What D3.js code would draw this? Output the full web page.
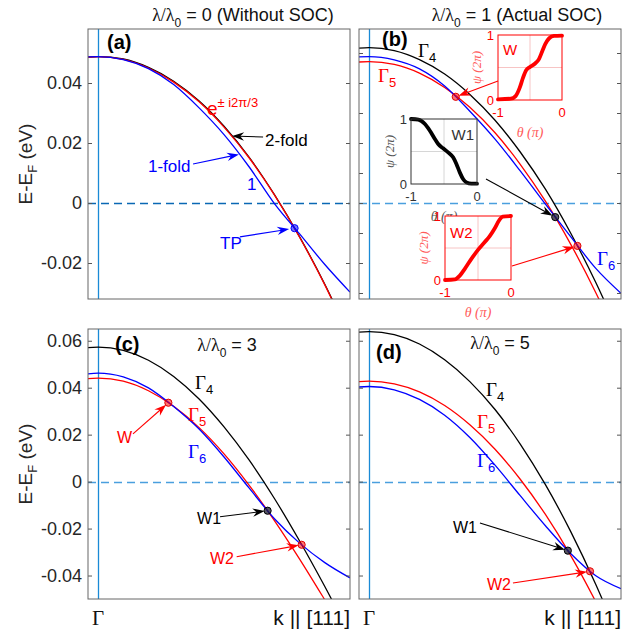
<!DOCTYPE html>
<html>
<head>
<meta charset="utf-8">
<script src="https://cdn.jsdelivr.net/npm/d3@7"></script>
<style>
  body { margin: 0; background: #fff; }
  svg text { font-family: "Liberation Sans", Arial, sans-serif; }
  .serif { font-family: "Liberation Serif", "Times New Roman", serif; }
</style>
</head>
<body>
<svg id="fig" width="626" height="631"></svg>
<script>
// k along [111], Gamma at 0
const kGrid = [-0.04, 0, 0.1, 0.2, 0.3, 0.4, 0.5, 0.6, 0.7, 0.8, 0.9, 1.0];

// (a) lambda/lambda0 = 0
const aBlack = [0.0486, 0.0488, 0.0480, 0.0452, 0.0406, 0.0341, 0.0256, 0.0152, 0.0028, -0.0113, -0.0271, -0.0449];
const aRed   = [0.0486, 0.0488, 0.0479, 0.0450, 0.0403, 0.0338, 0.0253, 0.0150, 0.0027, -0.0114, -0.0273, -0.0452];
const aBlue  = [0.0487, 0.0488, 0.0478, 0.0448, 0.0395, 0.0318, 0.0228, 0.0120, -0.0002, -0.0103, -0.0205, -0.0297];
// (b) lambda/lambda0 = 1
const bBlack = [0.0516, 0.0518, 0.0508, 0.0478, 0.0430, 0.0362, 0.0276, 0.0170, 0.0046, -0.0100, -0.0265, -0.0450];
const bRed   = [0.0470, 0.0471, 0.0462, 0.0433, 0.0385, 0.0319, 0.0234, 0.0129, 0.0006, -0.0137, -0.0299, -0.0480];
const bBlue  = [0.0487, 0.0488, 0.0477, 0.0447, 0.0390, 0.0306, 0.0213, 0.0107, -0.0004, -0.0112, -0.0218, -0.0301];
// (c) lambda/lambda0 = 3
const cBlack = [0.0571, 0.0573, 0.0559, 0.0517, 0.0448, 0.0353, 0.0233, 0.0091, -0.0072, -0.0253, -0.0447, -0.0653];
const cRed   = [0.0439, 0.0441, 0.0428, 0.0387, 0.0321, 0.0231, 0.0118, -0.0016, -0.0166, -0.0330, -0.0504, -0.0682];
const cBlue  = [0.0459, 0.0462, 0.0446, 0.0399, 0.0320, 0.0225, 0.0105, -0.0028, -0.0158, -0.0262, -0.0345, -0.0410];
// (d) lambda/lambda0 = 5
const dBlack = [0.0637, 0.0639, 0.0626, 0.0586, 0.0519, 0.0426, 0.0307, 0.0160, -0.0013, -0.0212, -0.0438, -0.0691];
const dRed   = [0.0426, 0.0428, 0.0416, 0.0382, 0.0324, 0.0242, 0.0138, 0.0010, -0.0140, -0.0314, -0.0512, -0.0732];
const dBlue  = [0.0403, 0.0405, 0.0391, 0.0350, 0.0283, 0.0188, 0.0070, -0.0060, -0.0188, -0.0306, -0.0401, -0.0456];

// crossing points [k, E]
const aTP = [0.78, -0.0084];
const bW = [0.344, 0.0354], bW1 = [0.739, -0.0047], bW2 = [0.827, -0.0143];
const cW = [0.279, 0.0336], cW1 = [0.673, -0.0124], cW2 = [0.808, -0.0269];
const dW1 = [0.789, -0.0294], dW2 = [0.877, -0.0382];

// Wilson loops, theta (pi) vs psi (2pi)
const wTheta  = [-1, -0.8, -0.725, -0.66, -0.61, -0.56, -0.5, -0.425, -0.36, -0.31, -0.26, -0.2, -0.125, 0];
const wPsi    = [0.01, 0.02, 0.06, 0.19, 0.34, 0.457, 0.508, 0.558, 0.63, 0.746, 0.863, 0.95, 0.985, 0.99];
const w1Theta = [-1, -0.889, -0.789, -0.714, -0.638, -0.588, -0.513, -0.437, -0.362, -0.312, -0.261, -0.211, -0.161, -0.085, 0];
const w1Psi   = [1.0, 0.99, 0.923, 0.82, 0.692, 0.615, 0.549, 0.487, 0.41, 0.308, 0.179, 0.077, 0.026, 0.005, 0.005];
const w2Theta = [-1, -0.85, -0.775, -0.7, -0.6, -0.5, -0.4, -0.325, -0.25, -0.175, -0.125, 0];
const w2Psi   = [0, 0.01, 0.068, 0.174, 0.33, 0.47, 0.59, 0.68, 0.8, 0.94, 0.99, 1];

// axes
const kDomain = [-0.04, 1.0];
const abDomain = [-0.032, 0.058];
const cdDomain = [-0.05, 0.065];
const abTicks = [0.04, 0.02, 0, -0.02];
const bTicks = [0.05, 0.04, 0.03, 0.02, 0.01, 0, -0.01, -0.02, -0.03];
const cdTicks = [0.06, 0.04, 0.02, 0, -0.02, -0.04];

const PW = 262, PH = 270;
const RED = "#ff0000", BLUE = "#0000ff", BLACK = "#000000";
const svg = d3.select("#fig");

function richText(parent, x, y, parts, attrs) {
    var t = parent.append("text").attr("x", x).attr("y", y);
    Object.entries(attrs || {}).forEach(([k, v]) => t.attr(k, v));
    var shift = 0;
    parts.forEach(p => {
        var s = t.append("tspan").text(p.t);
        var target = p.dy || 0;
        s.attr("dy", target - shift);
        shift = target;
        if (p.size) s.attr("font-size", p.size);
        if (p.serif) s.attr("class", "serif");
        if (p.italic) s.attr("font-style", "italic");
    });
    return t;
}

function gamma(parent, x, y, n, color) {
    return richText(parent, x, y, [
        { t: "Γ", serif: true, size: 19 },
        { t: n, size: 13, dy: 5 }
    ], { fill: color });
}

function arrow(g, x1, y1, x2, y2, color, back) {
    var dx = x2 - x1, dy = y2 - y1, len = Math.hypot(dx, dy);
    var ux = dx / len, uy = dy / len, nx = -uy, ny = ux;
    var tx = x2 - ux * back, ty = y2 - uy * back;
    var L = 12, hw = 4.2;
    var bx = tx - ux * L, by = ty - uy * L;
    g.append("line")
        .attr("x1", x1).attr("y1", y1)
        .attr("x2", tx - ux * L * 0.6).attr("y2", ty - uy * L * 0.6)
        .attr("stroke", color).attr("stroke-width", 1.1);
    g.append("path")
        .attr("d", `M${tx},${ty}L${bx + nx * hw},${by + ny * hw}L${tx - ux * L * 0.68},${ty - uy * L * 0.68}L${bx - nx * hw},${by - ny * hw}Z`)
        .attr("fill", color);
}

function dot(g, p, pt, kind) {
    var styles = {
        red: ["rgba(255,0,0,0.55)", "#e00000"],
        black: ["rgba(30,30,50,0.75)", "#000"],
        blue: ["rgba(0,0,255,0.55)", "#0000ff"]
    };
    g.append("circle")
        .attr("cx", p.x(pt[0])).attr("cy", p.y(pt[1])).attr("r", 3.6)
        .attr("fill", styles[kind][0]).attr("stroke", styles[kind][1]).attr("stroke-width", 1);
}

const panels = [
    { id: "a", left: 88, top: 29, yDomain: abDomain, ticks: abTicks, tickLabels: true, zero: "#0a68b4",
      bands: [[aBlack, BLACK], [aRed, RED], [aBlue, BLUE]], tag: "(a)", tagPos: [19, 20] },
    { id: "b", left: 359, top: 29, yDomain: abDomain, ticks: bTicks, tickLabels: false, zero: "#4a9fde",
      bands: [[bBlack, BLACK], [bRed, RED], [bBlue, BLUE]], tag: "(b)", tagPos: [23, 17] },
    { id: "c", left: 88, top: 329, yDomain: cdDomain, ticks: cdTicks, tickLabels: true, zero: "#4a9fde",
      bands: [[cBlack, BLACK], [cRed, RED], [cBlue, BLUE]], tag: "(c)", tagPos: [27, 22] },
    { id: "d", left: 359, top: 329, yDomain: cdDomain, ticks: cdTicks, tickLabels: false, zero: "#4a9fde",
      bands: [[dBlack, BLACK], [dRed, RED], [dBlue, BLUE]], tag: "(d)", tagPos: [17, 30] }
];

panels.forEach(p => {
    p.x = d3.scaleLinear().domain(kDomain).range([p.left, p.left + PW]);
    p.y = d3.scaleLinear().domain(p.yDomain).range([p.top + PH, p.top]);
    p.g = svg.append("g");

    svg.append("clipPath").attr("id", "clip-" + p.id)
        .append("rect").attr("x", p.left).attr("y", p.top).attr("width", PW).attr("height", PH);

    var plot = p.g.append("g").attr("clip-path", `url(#clip-${p.id})`);

    // Gamma line and Fermi level (snapped to the pixel grid so the dashes stay crisp)
    var gx = Math.round(p.x(0)) + 0.5;
    var zy = Math.round(p.y(0)) + 0.5;
    plot.append("line")
        .attr("x1", gx).attr("x2", gx).attr("y1", p.top).attr("y2", p.top + PH)
        .attr("stroke", "#1a8ad6").attr("stroke-width", 1.3);
    plot.append("line")
        .attr("x1", p.left).attr("x2", p.left + PW).attr("y1", zy).attr("y2", zy)
        .attr("stroke", p.zero).attr("stroke-width", 1.3).attr("stroke-dasharray", "8,5");

    var line = d3.line()
        .x((d, i) => p.x(kGrid[i]))
        .y(d => p.y(d))
        .curve(d3.curveMonotoneX);

    p.bands.forEach(([vals, color]) => {
        plot.append("path").attr("d", line(vals))
            .attr("fill", "none").attr("stroke", color).attr("stroke-width", 1.3);
    });

    p.ann = p.g.append("g");
});

// axes on top of everything in each panel
function drawAxes(p) {
    var ax = svg.append("g");
    var left = d3.axisLeft(p.y).tickValues(p.ticks).tickSize(-4).tickPadding(6)
        .tickFormat(p.tickLabels ? (d => String(d)) : "");
    var right = d3.axisRight(p.y).tickValues(p.ticks).tickSize(-4).tickFormat("");
    var gl = ax.append("g").attr("transform", `translate(${p.left},0)`).call(left);
    var gr = ax.append("g").attr("transform", `translate(${p.left + PW},0)`).call(right);
    [gl, gr].forEach(g => {
        g.select(".domain").remove();
        g.selectAll(".tick line").attr("stroke", "#555");
        g.selectAll(".tick text").attr("fill", "#262626").attr("font-size", 18)
            .attr("font-family", '"Liberation Sans", Arial, sans-serif');
    });
    ax.append("rect").attr("x", p.left).attr("y", p.top).attr("width", PW).attr("height", PH)
        .attr("fill", "none").attr("stroke", "#666").attr("stroke-width", 1);
    ax.append("text").attr("x", p.left + p.tagPos[0]).attr("y", p.top + p.tagPos[1])
        .attr("font-size", 20).attr("font-weight", "bold").attr("fill", "#000").text(p.tag);
}

const [pa, pb, pc, pd] = panels;

// ---- panel (a) annotations
var g = pa.ann;
richText(g, pa.x(0.432), pa.y(0.0293), [
    { t: "e", size: 19 },
    { t: "± i2π/3", size: 13, dy: -8 }
], { fill: RED });
g.append("text").attr("x", pa.x(0.663)).attr("y", pa.y(0.019)).attr("font-size", 17).text("2-fold");
arrow(g, pa.x(0.655), pa.y(0.022), pa.x(0.532), pa.y(0.0223), BLACK, 0);
g.append("text").attr("x", pa.x(0.198)).attr("y", pa.y(0.0103)).attr("font-size", 17).attr("fill", BLUE).text("1-fold");
arrow(g, pa.x(0.377), pa.y(0.013), pa.x(0.559), pa.y(0.0162), BLUE, 0);
g.append("text").attr("x", pa.x(0.591)).attr("y", pa.y(0.0043)).attr("font-size", 17).attr("fill", BLUE).text("1");
g.append("text").attr("x", pa.x(0.484)).attr("y", pa.y(-0.0153)).attr("font-size", 17).attr("fill", BLUE).text("TP");
arrow(g, pa.x(0.563), pa.y(-0.0113), pa.x(aTP[0]), pa.y(aTP[1]), BLUE, 5.5);
dot(g, pa, aTP, "blue");

// ---- panel (b) annotations
g = pb.ann;
gamma(g, pb.x(0.194), pb.y(0.0487), "4", BLACK);
gamma(g, pb.x(0.0354), pb.y(0.0403), "5", RED);
gamma(g, pb.x(0.905), pb.y(-0.0207), "6", BLUE);

const insets = [
    { x: 411, y: 119, w: 66, h: 65, theta: w1Theta, psi: w1Psi, color: BLACK, text: "#333", axisLabel: "#555",
      grid: "#d6d6d6", frame: "#333", label: "W1", lx: 63, ly: 21, anchor: "end", from: [75, 60], target: bW1, kind: "black" },
    { x: 445, y: 216, w: 66, h: 64, theta: w2Theta, psi: w2Psi, color: RED, text: RED, axisLabel: "#ff5a5a",
      grid: "#f7c4c4", frame: RED, label: "W2", lx: 5, ly: 22, anchor: "start", from: [67, 50], target: bW2, kind: "red" },
    { x: 498, y: 35, w: 64, h: 65, theta: wTheta, psi: wPsi, color: RED, text: RED, axisLabel: "#ff5a5a",
      grid: "#f7c4c4", frame: RED, label: "W", lx: 5, ly: 20, anchor: "start", from: [0, 46], target: bW, kind: "red" }
];

insets.forEach(ins => {
    var ig = g.append("g");
    var tx = d3.scaleLinear().domain([-1, 0]).range([ins.x, ins.x + ins.w]);
    var ty = d3.scaleLinear().domain([0, 1]).range([ins.y + ins.h, ins.y]);
    ig.append("rect").attr("x", ins.x).attr("y", ins.y).attr("width", ins.w).attr("height", ins.h)
        .attr("fill", "#fff");
    ig.append("line").attr("x1", tx(-0.5)).attr("x2", tx(-0.5)).attr("y1", ins.y).attr("y2", ins.y + ins.h)
        .attr("stroke", ins.grid).attr("stroke-width", 1);
    ig.append("line").attr("x1", ins.x).attr("x2", ins.x + ins.w).attr("y1", ty(0.5)).attr("y2", ty(0.5))
        .attr("stroke", ins.grid).attr("stroke-width", 1);
    var wl = d3.line().x((d, i) => tx(ins.theta[i])).y(d => ty(d)).curve(d3.curveMonotoneX);
    ig.append("path").attr("d", wl(ins.psi)).attr("fill", "none").attr("stroke", ins.color)
        .attr("stroke-width", 3.8).attr("stroke-linecap", "round").attr("stroke-linejoin", "round");
    ig.append("rect").attr("x", ins.x).attr("y", ins.y).attr("width", ins.w).attr("height", ins.h)
        .attr("fill", "none").attr("stroke", ins.frame).attr("stroke-width", 1);
    // tick labels
    ig.append("text").attr("x", ins.x - 4).attr("y", ty(1) + 5).attr("text-anchor", "end")
        .attr("font-size", 13).attr("fill", ins.text).text("1");
    ig.append("text").attr("x", ins.x - 4).attr("y", ty(0) + 5).attr("text-anchor", "end")
        .attr("font-size", 13).attr("fill", ins.text).text("0");
    ig.append("text").attr("x", tx(-1)).attr("y", ins.y + ins.h + 17).attr("text-anchor", "middle")
        .attr("font-size", 13).attr("fill", ins.text).text("-1");
    ig.append("text").attr("x", tx(0)).attr("y", ins.y + ins.h + 17).attr("text-anchor", "middle")
        .attr("font-size", 13).attr("fill", ins.text).text("0");
    // axis titles
    ig.append("text").attr("class", "serif")
        .attr("transform", `translate(${ins.x - 17},${ins.y + ins.h / 2}) rotate(-90)`)
        .attr("text-anchor", "middle").attr("font-size", 13).attr("font-style", "italic")
        .attr("fill", ins.axisLabel).text("ψ (2π)");
    ig.append("text").attr("class", "serif")
        .attr("x", ins.x + ins.w / 2).attr("y", ins.y + ins.h + 37)
        .attr("text-anchor", "middle").attr("font-size", 14).attr("font-style", "italic")
        .attr("fill", ins.axisLabel).text("θ (π)");
    ig.append("text").attr("x", ins.x + ins.lx).attr("y", ins.y + ins.ly).attr("text-anchor", ins.anchor)
        .attr("font-size", 15).attr("fill", ins.text).text(ins.label);
    arrow(ig, ins.x + ins.from[0], ins.y + ins.from[1], pb.x(ins.target[0]), pb.y(ins.target[1]), ins.color, 3);
});
dot(g, pb, bW, "red");
dot(g, pb, bW1, "black");
dot(g, pb, bW2, "red");

// ---- panel (c) annotations
g = pc.ann;
gamma(g, pc.x(0.385), pc.y(0.0395), "4", BLACK);
gamma(g, pc.x(0.357), pc.y(0.0259), "5", RED);
gamma(g, pc.x(0.357), pc.y(0.0101), "6", BLUE);
g.append("text").attr("x", pc.x(0.075)).attr("y", pc.y(0.0164)).attr("font-size", 16).attr("fill", RED).text("W");
arrow(g, pc.x(0.1386), pc.y(0.0203), pc.x(cW[0]), pc.y(cW[1]), RED, 3);
g.append("text").attr("x", pc.x(0.393)).attr("y", pc.y(-0.018)).attr("font-size", 16).attr("fill", BLACK).text("W1");
arrow(g, pc.x(0.484), pc.y(-0.015), pc.x(cW1[0]), pc.y(cW1[1]), BLACK, 3);
g.append("text").attr("x", pc.x(0.444)).attr("y", pc.y(-0.0351)).attr("font-size", 16).attr("fill", RED).text("W2");
arrow(g, pc.x(0.55), pc.y(-0.032), pc.x(cW2[0]), pc.y(cW2[1]), RED, 3);
dot(g, pc, cW, "red");
dot(g, pc, cW1, "black");
dot(g, pc, cW2, "red");

// ---- panel (d) annotations
g = pd.ann;
gamma(g, pd.x(0.464), pd.y(0.0365), "4", BLACK);
gamma(g, pd.x(0.428), pd.y(0.0228), "5", RED);
gamma(g, pd.x(0.428), pd.y(0.0062), "6", BLUE);
g.append("text").attr("x", pd.x(0.333)).attr("y", pd.y(-0.0219)).attr("font-size", 16).attr("fill", BLACK).text("W1");
arrow(g, pd.x(0.44), pd.y(-0.0176), pd.x(dW1[0]), pd.y(dW1[1]), BLACK, 3);
g.append("text").attr("x", pd.x(0.468)).attr("y", pd.y(-0.0462)).attr("font-size", 16).attr("fill", RED).text("W2");
arrow(g, pd.x(0.571), pd.y(-0.0432), pd.x(dW2[0]), pd.y(dW2[1]), RED, 3);
dot(g, pd, dW1, "black");
dot(g, pd, dW2, "red");

panels.forEach(drawAxes);

// titles
function lambdaText(x, y, rest) {
    return richText(svg, x, y, [
        { t: "λ/λ", serif: true, size: 18 },
        { t: "0", size: 12, dy: 6 },
        { t: rest, size: 18, dy: 0 }
    ], { "text-anchor": "middle", fill: "#111" });
}
lambdaText(pa.left + 155, 21, " = 0 (Without SOC)");
lambdaText(pb.left + 158, 21, " = 1 (Actual SOC)");
lambdaText(pc.left + 139, pc.top + 22, " = 3");
lambdaText(pd.left + 141, pd.top + 20, " = 5");

// y labels
[pa, pc].forEach(p => {
    richText(svg, 0, 0, [
        { t: "E-E", size: 19 },
        { t: "F", size: 13, dy: 5 },
        { t: " (eV)", size: 19, dy: 0 }
    ], { "text-anchor": "middle", fill: "#262626",
         transform: `translate(32,${p.top + PH / 2}) rotate(-90)` });
});

// x labels
[pc, pd].forEach(p => {
    svg.append("text").attr("class", "serif").attr("x", p.x(0)).attr("y", p.top + 296)
        .attr("text-anchor", "middle").attr("font-size", 21).attr("fill", "#111").text("Γ");
    svg.append("text").attr("x", p.left + PW).attr("y", p.top + 296)
        .attr("text-anchor", "end").attr("font-size", 21).attr("fill", "#111").text("k || [111]");
});
</script>
</body>
</html>
